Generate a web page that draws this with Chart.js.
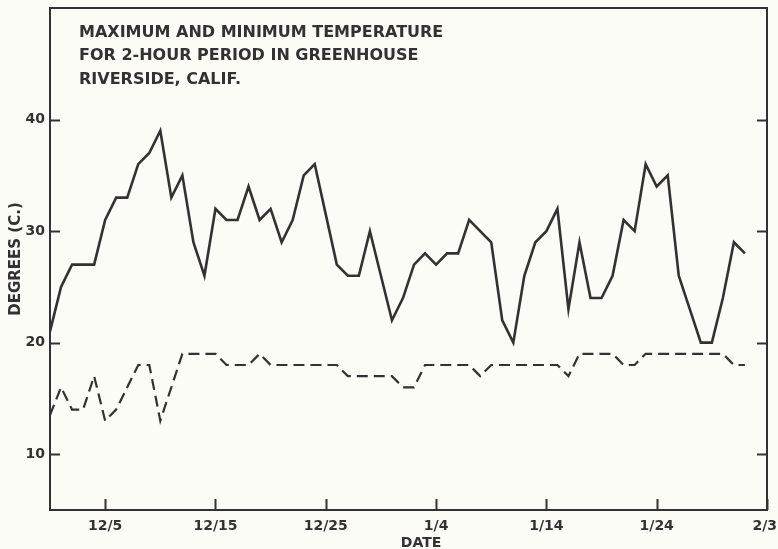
<!DOCTYPE html>
<html>
<head>
<meta charset="utf-8">
<script src="https://cdn.jsdelivr.net/npm/chart.js@4"></script>
<style>
  html, body { margin: 0; padding: 0; background: rgb(252,252,246); }
  canvas { display: block; }
</style>
</head>
<body>
<canvas id="c" width="778" height="549"></canvas>
<script>
// Daily greenhouse readings, day 0 = Nov 30
const maxTemps = [21, 25, 27, 27, 27, 31, 33, 33, 36, 37, 39, 33, 35, 29, 26, 32, 31, 31, 34, 31,
                  32, 29, 31, 35, 36, 31.5, 27, 26, 26, 30, 26, 22, 24, 27, 28, 27, 28, 28, 31, 30,
                  29, 22, 20, 26, 29, 30, 32, 23, 29, 24, 24, 26, 31, 30, 36, 34, 35, 26, 23, 20,
                  20, 24, 29, 28];
const minTemps = [13.5, 16, 14, 14, 17, 13, 14, 16, 18, 18, 13, 16, 19, 19, 19, 19, 18, 18, 18, 19,
                  18, 18, 18, 18, 18, 18, 18, 17, 17, 17, 17, 17, 16, 16, 18, 18, 18, 18, 18, 17,
                  18, 18, 18, 18, 18, 18, 18, 17, 19, 19, 19, 19, 18, 18, 19, 19, 19, 19, 19, 19,
                  19, 19, 18, 18];
const tickDays = [5, 15, 25, 35, 45, 55, 65];
const tickLabels = ['12/5', '12/15', '12/25', '1/4', '1/14', '1/24', '2/3'];
const yTickValues = [10, 20, 30, 40];
const titleLines = ['MAXIMUM AND MINIMUM TEMPERATURE', 'FOR 2-HOUR PERIOD IN GREENHOUSE', 'RIVERSIDE, CALIF.'];

const INK = '#333131';
const PAPER = 'rgb(252,252,246)';
const FONT = '"DejaVu Sans", sans-serif';

const toPoints = arr => arr.map((v, i) => ({ x: i, y: v }));

const framePlugin = {
  id: 'frame',
  beforeDraw(chart) {
    const { ctx, width, height } = chart;
    ctx.save();
    ctx.fillStyle = PAPER;
    ctx.fillRect(0, 0, width, height);
    ctx.restore();
  },
  afterDraw(chart) {
    const { ctx, chartArea: a } = chart;
    const xs = chart.scales.x, ys = chart.scales.y;
    ctx.save();
    ctx.strokeStyle = INK;
    ctx.lineWidth = 2;
    ctx.strokeRect(a.left, a.top, a.right - a.left, a.bottom - a.top);

    // inward tick marks on both vertical sides
    ctx.beginPath();
    ys.ticks.forEach(t => {
      const py = Math.round(ys.getPixelForValue(t.value)) + 0.5;
      ctx.moveTo(a.left, py); ctx.lineTo(a.left + 10, py);
      ctx.moveTo(a.right - 10, py); ctx.lineTo(a.right, py);
    });
    // inward tick marks along the date axis
    xs.ticks.forEach(t => {
      const px = Math.round(xs.getPixelForValue(t.value)) + 0.5;
      ctx.moveTo(px, a.bottom); ctx.lineTo(px, a.bottom - 11);
    });
    ctx.stroke();

    // date labels
    ctx.fillStyle = INK;
    ctx.font = 'bold 14px ' + FONT;
    ctx.textAlign = 'center';
    ctx.textBaseline = 'alphabetic';
    xs.ticks.forEach(t => {
      const label = tickLabels[tickDays.indexOf(t.value)];
      const w = ctx.measureText(label).width;
      let px = xs.getPixelForValue(t.value);
      px = Math.min(px, chart.width - w / 2 - 1);
      ctx.fillText(label, px, 530);
    });
    ctx.fillText('DATE', 421, 547);

    // heading inside the plot
    ctx.textAlign = 'left';
    ctx.font = 'bold 16px ' + FONT;
    titleLines.forEach((line, i) => ctx.fillText(line, 79, 37 + i * 23.3));
    ctx.restore();
  }
};

new Chart(document.getElementById('c'), {
  type: 'line',
  data: {
    datasets: [
      {
        label: 'Maximum',
        data: toPoints(maxTemps),
        borderColor: INK,
        borderWidth: 2.6,
        pointRadius: 0,
        tension: 0,
        fill: false
      },
      {
        label: 'Minimum',
        data: toPoints(minTemps),
        borderColor: INK,
        borderWidth: 2.2,
        borderDash: [11, 6],
        pointRadius: 0,
        tension: 0,
        fill: false
      }
    ]
  },
  options: {
    responsive: false,
    animation: false,
    layout: { padding: { top: 8, left: 0, right: 0, bottom: 0 } },
    plugins: { legend: { display: false }, tooltip: { enabled: false }, title: { display: false } },
    scales: {
      x: {
        type: 'linear',
        min: 0,
        max: 65,
        grid: { display: false },
        border: { display: false },
        ticks: { display: false },
        afterBuildTicks: s => { s.ticks = tickDays.map(v => ({ value: v })); },
        afterFit: s => { s.height = 39; s.paddingLeft = 0; s.paddingRight = 0; }
      },
      y: {
        type: 'linear',
        position: 'left',
        min: 5,
        max: 50,
        grid: { display: false, drawTicks: false },
        border: { display: false },
        ticks: {
          color: INK,
          padding: 5,
          font: { family: FONT, size: 14, weight: 'bold' }
        },
        afterBuildTicks: s => { s.ticks = yTickValues.map(v => ({ value: v })); },
        title: {
          display: true,
          text: 'DEGREES (C.)',
          color: INK,
          font: { family: FONT, size: 15, weight: 'bold' },
          padding: { top: 7, bottom: 0 }
        },
        afterFit: s => { s.width = 50; s.paddingTop = 0; s.paddingBottom = 0; }
      },
      y2: {
        type: 'linear',
        position: 'right',
        min: 5,
        max: 50,
        grid: { display: false },
        border: { display: false },
        ticks: { display: false },
        afterFit: s => { s.width = 11; s.paddingTop = 0; s.paddingBottom = 0; }
      }
    }
  },
  plugins: [framePlugin]
});
</script>
</body>
</html>
